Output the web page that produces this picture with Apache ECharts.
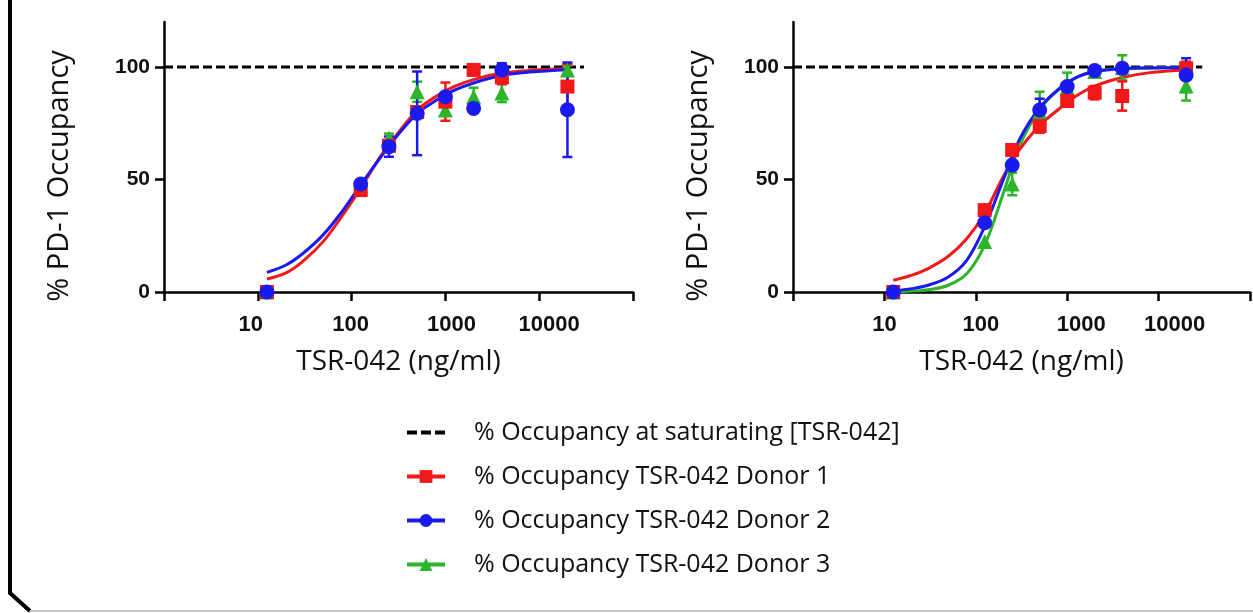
<!DOCTYPE html>
<html>
<head>
<meta charset="utf-8">
<script src="https://cdn.jsdelivr.net/npm/echarts@6/dist/echarts.min.js"></script>
<style>
html,body{margin:0;padding:0;background:#fff;}
#chart{width:1253px;height:613px;}
</style>
</head>
<body>
<div id="chart"></div>
<script>
// ---- data ----
const pointConc = [12.5, 125, 250, 500, 1000, 2000, 4000, 20000];
const curveConc = [12.5, 20, 30, 50, 80, 125, 200, 300, 500, 800, 1250, 2000, 4000, 8000, 20000];

// left panel
const leftD1 = [0, 45.3, 65, 80, 84.6, 98.7, 95.4, 91.3];
const leftD1Err = [0, 0, 0, 0, 8.5, 0, 3, 10];
const leftD2 = [0, 48, 64.6, 79.4, 86.8, 81.6, 98.7, 81];
const leftD2Err = [0, 0, 4.5, 18.6, 1.5, 0, 3, 21];
const leftD3 = [0, 47, 68.4, 89, 80.9, 86.8, 88.4, 98.7];
const leftD3Err = [0, 0, 2, 4.5, 0, 4, 4, 2];
const leftCurveD1 = [5.8, 8.5, 13.5, 22.5, 34.0, 46.1, 59.8, 69.7, 80.8, 87.0, 91.4, 94.4, 97.3, 98.5, 99.3];
const leftCurveD2 = [8.7, 12.0, 17.0, 25.5, 36.0, 47.6, 59.4, 69.0, 79.3, 85.2, 89.7, 92.9, 96.3, 97.8, 98.8];

// right panel
const rightD1 = [0, 36.4, 63.1, 73.8, 84.9, 88.6, 87.1, 99.4];
const rightD1Err = [0, 0, 0, 3, 1, 3, 6.5, 3];
const rightD2 = [0, 30.8, 56.4, 80.9, 91.3, 98.4, 99.4, 96.4];
const rightD2Err = [0, 0, 0, 5, 1, 0, 2, 7.5];
const rightD3 = [0, 22.4, 48, 80, 91, 98, 99.7, 91.6];
const rightD3Err = [0, 0, 5, 9, 6.5, 1, 5.5, 6.5];
const rightCurveD1 = [5.2, 7.5, 10.4, 15.9, 23.8, 35.0, 51.3, 63.3, 74.0, 81.1, 87.1, 91.5, 95.3, 97.5, 98.7];
const rightCurveD2 = [0.5, 1.5, 3.0, 6.7, 14.2, 29.0, 49.9, 67.7, 81.9, 90.0, 95.3, 97.9, 99.3, 99.6, 99.7];
const rightCurveD3 = [0, 0.4, 1.0, 3.0, 8.2, 20.8, 43.9, 64.8, 81.1, 90.0, 95.3, 98.2, 99.3, 99.6, 99.7];

const saturatingLine = [[1, 100], [30000, 100]];

const xTickLabels = ['10', '100', '1000', '10000'];
const yTickValues = [0, 50, 100];

const names = {
  sat: '% Occupancy at saturating [TSR-042]',
  d1: '% Occupancy TSR-042 Donor 1',
  d2: '% Occupancy TSR-042 Donor 2',
  d3: '% Occupancy TSR-042 Donor 3'
};
const yTitle = '% PD-1 Occupancy';
const xTitle = 'TSR-042 (ng/ml)';
const colors = { d1: '#f01818', d2: '#1a1aee', d3: '#2ab52a' };
const symbols = { d1: 'rect', d2: 'circle', d3: 'triangle' };

// horizontal nudges of x tick labels (as placed in the original figure)
const xLabelShift = [
  { '10': -7, '100': -1, '1000': 6, '10000': 10 },
  { '10': 0, '100': 5, '1000': 14, '10000': 16 }
];

// ---- helpers ----
function pairs(xs, ys) { return xs.map((x, i) => [x, ys[i]]); }
function triples(xs, ys, es) { return xs.map((x, i) => [x, ys[i], es[i]]); }

const TXT = '#111';
const FONT = 'Open Sans';

function makeX(gi) {
  const shifts = xLabelShift[gi];
  const rich = {};
  xTickLabels.forEach(function (s) {
    const d = shifts[s] || 0;
    rich['t' + s] = {
      color: TXT, fontSize: 22, fontWeight: 'bold', fontFamily: 'Liberation Sans',
      padding: d >= 0 ? [0, 0, 0, 2 * d] : [0, -2 * d, 0, 0]
    };
  });
  return {
    type: 'log', logBase: 10, min: 1, max: 100000, gridIndex: gi,
    axisLine: { lineStyle: { color: '#000', width: 2.5 } },
    axisTick: { length: 9, lineStyle: { color: '#000', width: 2.5 } },
    minorTick: { show: false },
    splitLine: { show: false },
    axisLabel: {
      color: TXT, fontSize: 22, fontWeight: 'bold', fontFamily: 'Liberation Sans', margin: 22,
      rich: rich,
      formatter: function (v) {
        const s = String(Math.round(v));
        return xTickLabels.indexOf(s) >= 0 ? '{t' + s + '|' + s + '}' : '';
      }
    },
    name: xTitle, nameLocation: 'middle', nameGap: 56,
    nameTextStyle: { color: TXT, fontSize: 28, fontFamily: FONT }
  };
}
function makeY(gi) {
  return {
    type: 'value', min: 0, max: 120, gridIndex: gi,
    axisLine: { show: true, lineStyle: { color: '#000', width: 2.5 } },
    axisTick: { show: true, length: 9, customValues: yTickValues, lineStyle: { color: '#000', width: 2.5 } },
    splitLine: { show: false },
    axisLabel: {
      color: TXT, fontSize: 21, fontWeight: 'bold', fontFamily: 'Liberation Sans', margin: 14,
      customValues: yTickValues
    }
  };
}

function curve(name, color, symbol, gi, conc, ys) {
  return {
    type: 'line', name: name, xAxisIndex: gi, yAxisIndex: gi,
    data: pairs(conc, ys), smooth: 0.35, symbol: symbol, showSymbol: false,
    lineStyle: { color: color, width: 3 }, itemStyle: { color: color },
    z: 2, silent: true
  };
}
function points(name, color, symbol, size, gi, ys) {
  return {
    type: 'scatter', name: name, xAxisIndex: gi, yAxisIndex: gi,
    data: pairs(pointConc, ys), symbol: symbol, symbolSize: size,
    itemStyle: { color: color, opacity: 1 }, z: 4, silent: true
  };
}
function errBars(name, color, gi, ys, es) {
  return {
    type: 'custom', name: name, xAxisIndex: gi, yAxisIndex: gi,
    data: triples(pointConc, ys, es), encode: { x: 0, y: 1 }, z: 3, silent: true,
    renderItem: function (params, api) {
      const x = api.value(0), y = api.value(1), e = api.value(2);
      if (!(e > 0)) return null;
      const hi = api.coord([x, y + e]);
      const lo = api.coord([x, y - e]);
      const w = 5;
      const st = { stroke: color, lineWidth: 2.5 };
      return {
        type: 'group', children: [
          { type: 'line', shape: { x1: hi[0], y1: hi[1], x2: lo[0], y2: lo[1] }, style: st },
          { type: 'line', shape: { x1: hi[0] - w, y1: hi[1], x2: hi[0] + w, y2: hi[1] }, style: st },
          { type: 'line', shape: { x1: lo[0] - w, y1: lo[1], x2: lo[0] + w, y2: lo[1] }, style: st }
        ]
      };
    }
  };
}
function satLine(gi) {
  return {
    type: 'line', name: names.sat, xAxisIndex: gi, yAxisIndex: gi,
    data: saturatingLine, symbol: 'none',
    lineStyle: { color: '#000', width: 3, type: [9, 4] }, itemStyle: { color: '#000' },
    z: 1, silent: true
  };
}

const series = [
  satLine(0), satLine(1),
  curve(names.d1, colors.d1, symbols.d1, 0, curveConc, leftCurveD1),
  curve(names.d2, colors.d2, symbols.d2, 0, curveConc, leftCurveD2),
  curve(names.d3, colors.d3, symbols.d3, 1, curveConc, rightCurveD3),
  curve(names.d1, colors.d1, symbols.d1, 1, curveConc, rightCurveD1),
  curve(names.d2, colors.d2, symbols.d2, 1, curveConc, rightCurveD2),
  // left points
  errBars(names.d3, colors.d3, 0, leftD3, leftD3Err),
  points(names.d3, colors.d3, symbols.d3, 15, 0, leftD3),
  errBars(names.d1, colors.d1, 0, leftD1, leftD1Err),
  points(names.d1, colors.d1, symbols.d1, 14, 0, leftD1),
  errBars(names.d2, colors.d2, 0, leftD2, leftD2Err),
  points(names.d2, colors.d2, symbols.d2, 15, 0, leftD2),
  // right points
  errBars(names.d3, colors.d3, 1, rightD3, rightD3Err),
  points(names.d3, colors.d3, symbols.d3, 15, 1, rightD3),
  errBars(names.d1, colors.d1, 1, rightD1, rightD1Err),
  points(names.d1, colors.d1, symbols.d1, 14, 1, rightD1),
  errBars(names.d2, colors.d2, 1, rightD2, rightD2Err),
  points(names.d2, colors.d2, symbols.d2, 15, 1, rightD2)
];

function yTitleText(x, y) {
  return {
    type: 'text', x: x, y: y, rotation: Math.PI / 2, silent: true,
    style: { text: yTitle, fill: TXT, fontSize: 29, fontFamily: FONT, align: 'center', verticalAlign: 'middle' }
  };
}

const option = {
  backgroundColor: '#fff',
  animation: false,
  grid: [
    { left: 164, top: 22, width: 469, height: 270, containLabel: false },
    { left: 793, top: 22, width: 468, height: 270, containLabel: false }
  ],
  xAxis: [makeX(0), makeX(1)],
  yAxis: [makeY(0), makeY(1)],
  legend: {
    orient: 'vertical', left: 405, top: 420, padding: 0,
    itemWidth: 38, itemHeight: 16, itemGap: 19,
    selectedMode: false,
    textStyle: { color: TXT, fontSize: 25, fontFamily: FONT, padding: [0, 0, 0, 24] },
    lineStyle: { width: 4 },
    data: [
      { name: names.sat, itemStyle: { opacity: 0 }, lineStyle: { type: [10, 4], width: 4, color: '#000' } },
      { name: names.d1 },
      { name: names.d2 },
      { name: names.d3 }
    ]
  },
  graphic: [
    yTitleText(60, 176),
    yTitleText(699, 176),
    { type: 'polyline', shape: { points: [[10, -5], [10, 593], [30, 611]] },
      style: { stroke: '#000', lineWidth: 4, fill: null }, silent: true },
    { type: 'line', shape: { x1: 30, y1: 611, x2: 1260, y2: 611 },
      style: { stroke: '#c8c8c8', lineWidth: 2 }, silent: true }
  ],
  series: series
};

const chart = echarts.init(document.getElementById('chart'), null, { renderer: 'canvas' });
chart.setOption(option);
</script>
</body>
</html>
